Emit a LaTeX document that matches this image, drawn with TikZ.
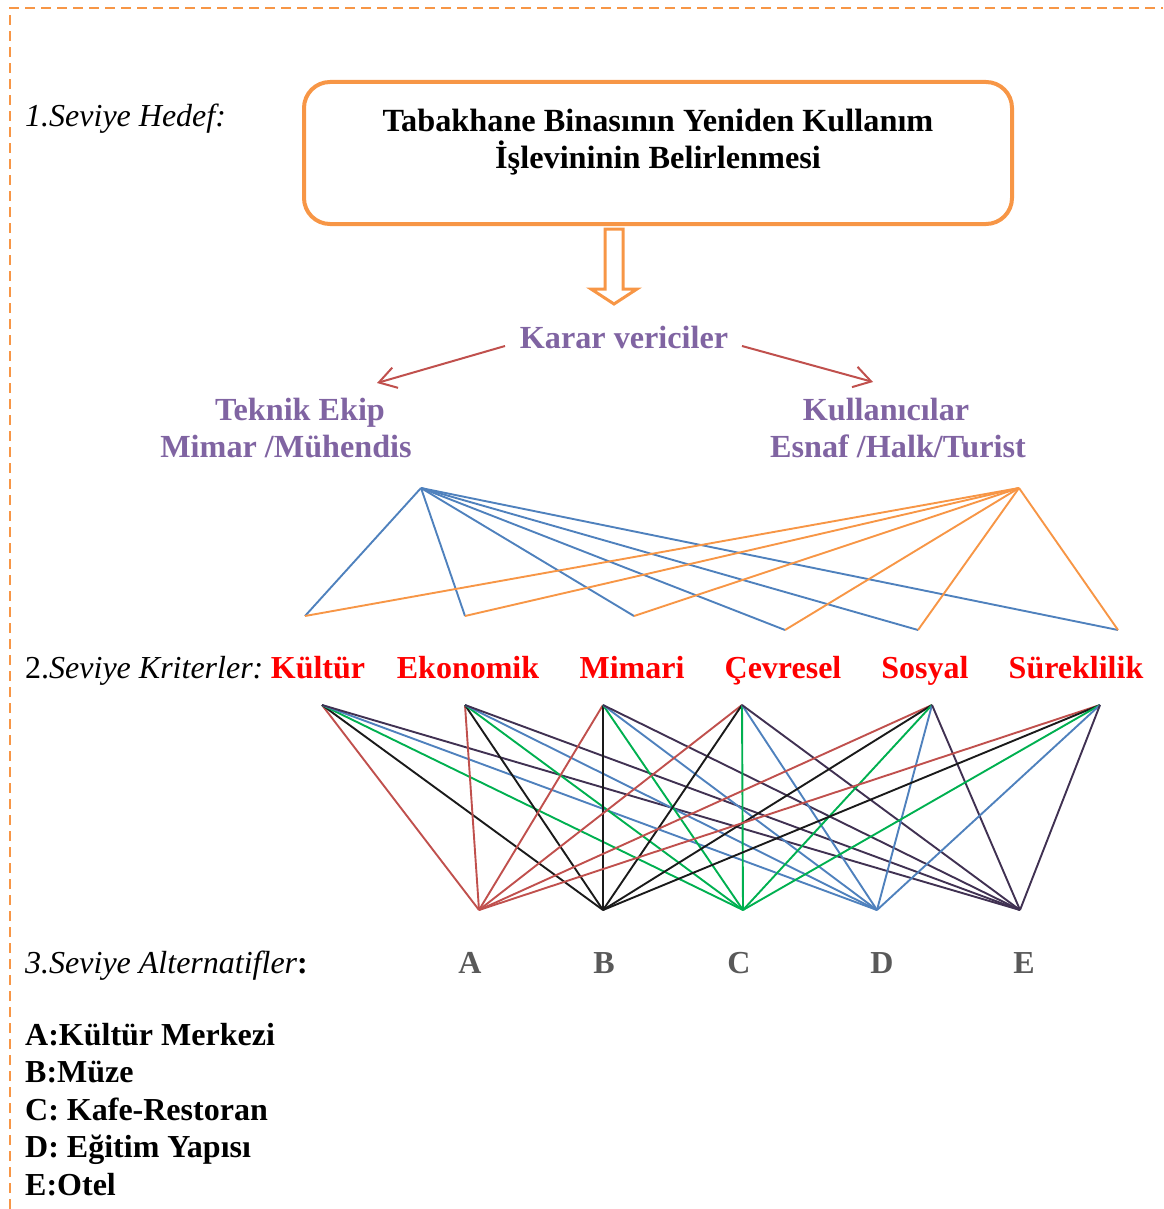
\documentclass[tikz,border=0pt]{standalone}
\usepackage{fontspec}
\setmainfont{Liberation Serif}
\usetikzlibrary{arrows.meta}
\definecolor{org}{HTML}{F79646}
\definecolor{redc}{HTML}{C0504D}
\definecolor{purp}{HTML}{8064A2}
\definecolor{bluec}{HTML}{4F81BD}
\definecolor{greenc}{HTML}{00B050}
\definecolor{darkp}{HTML}{403152}
\definecolor{blk}{HTML}{1A1A1A}
\definecolor{grayc}{HTML}{595959}
\definecolor{critred}{HTML}{FF0000}
\begin{document}
\begin{tikzpicture}[x=1pt,y=-1pt,
  font=\fontsize{32}{37}\selectfont,
  txt/.style={inner sep=0pt, anchor=base},
  lefttxt/.style={inner sep=0pt, anchor=base west},
  goaltxt/.style={txt, font=\fontsize{32.3}{37}\selectfont\bfseries},
  dmtxt/.style={txt, text=purp, font=\fontsize{32.2}{37}\selectfont\bfseries},
  crit/.style={txt, text=critred, font=\fontsize{32}{37}\selectfont\bfseries},
  alt/.style={txt, text=grayc, font=\fontsize{32}{37}\selectfont\bfseries},
  legend/.style={lefttxt, font=\fontsize{32}{37}\selectfont\bfseries},
  wire/.style={line width=1.9pt},
  redarrow/.style={redc, line width=2pt, -{Straight Barb[length=17pt,width=21pt]}}
]
\useasboundingbox (0,0) rectangle (1163,1209);
% dashed frame
\draw[org, line width=2.2pt, dash pattern=on 10pt off 6pt] (10,1209) -- (10,8) -- (1163,8);

% level 1
\node[lefttxt] (lvl1) at (25,127) {\textit{1.Seviye Hedef:}};
\node[draw=org, line width=4pt, rounded corners=26pt, minimum width=708pt, minimum height=142pt, inner sep=0pt] (goal) at (658,153) {};
\node[goaltxt] (goal1) at (658,132) {Tabakhane Binasının Yeniden Kullanım};
\node[goaltxt] (goal2) at (658,169) {İşlevininin Belirlenmesi};

% hollow down arrow
\draw[org, line width=3pt, line join=miter] (605,229) -- (623,229) -- (623,289) -- (637,289) -- (614,304) -- (591,289) -- (605,289) -- cycle;

% decision makers
\node[dmtxt] (karar) at (624,348) {Karar vericiler};
\node[dmtxt] (teknik) at (300,420) {Teknik Ekip};
\node[dmtxt] (mimar) at (286,457) {Mimar /Mühendis};
\node[dmtxt] (kull) at (886,420) {Kullanıcılar};
\node[dmtxt] (esnaf) at (898,457) {Esnaf /Halk/Turist};
\coordinate (kl) at (505,346);
\coordinate (kle) at (377,383);
\coordinate (kr) at (742,346);
\coordinate (kre) at (873,382);
\draw[redarrow] (kl) -- (kle);
\draw[redarrow] (kr) -- (kre);

% upper web
\coordinate (tb) at (421,488);
\coordinate (to) at (1019,488);
\coordinate (p1) at (305,616);
\coordinate (p2) at (465,616);
\coordinate (p3) at (634,616);
\coordinate (p4) at (785,630);
\coordinate (p5) at (918,630);
\coordinate (p6) at (1118,630);
\foreach \i in {1,...,6} {
  \draw[wire, bluec] (tb) -- (p\i);
}
\foreach \i in {1,...,6} {
  \draw[wire, org] (to) -- (p\i);
}

% level 2
\node[lefttxt] (lvl2) at (25,678) {2.\textit{Seviye Kriterler:}};
\node[crit] (c1) at (318,678) {Kültür};
\node[crit] (c2) at (468,678) {Ekonomik};
\node[crit] (c3) at (632,678) {Mimari};
\node[crit] (c4) at (783,678) {Çevresel};
\node[crit] (c5) at (925,678) {Sosyal};
\node[crit] (c6) at (1076,678) {Süreklilik};

% lower web
\coordinate (k1) at (322,705);
\coordinate (k2) at (465,705);
\coordinate (k3) at (603,705);
\coordinate (k4) at (742,705);
\coordinate (k5) at (932,705);
\coordinate (k6) at (1100,705);
\coordinate (a1) at (479,910);
\coordinate (a2) at (603,910);
\coordinate (a3) at (743,910);
\coordinate (a4) at (877,910);
\coordinate (a5) at (1020,910);
\foreach \k in {1,...,6} {
  \draw[wire, redc] (k\k) -- (a1);
  \draw[wire, blk] (k\k) -- (a2);
  \draw[wire, greenc] (k\k) -- (a3);
  \draw[wire, bluec] (k\k) -- (a4);
  \draw[wire, darkp] (k\k) -- (a5);
}

% level 3
\node[lefttxt] (lvl3) at (25,973) {\textit{3.Seviye Alternatifler}\textbf{:}};
\node[alt] (A) at (470,973) {A};
\node[alt] (B) at (604,973) {B};
\node[alt] (C) at (739,973) {C};
\node[alt] (D) at (882,973) {D};
\node[alt] (E) at (1024,973) {E};

% legend
\node[legend] (lA) at (25,1045) {A:Kültür Merkezi};
\node[legend] (lB) at (25,1082.5) {B:Müze};
\node[legend] (lC) at (25,1120) {C: Kafe-Restoran};
\node[legend] (lD) at (25,1157.5) {D: Eğitim Yapısı};
\node[legend] (lE) at (25,1195) {E:Otel};
\end{tikzpicture}
\end{document}
